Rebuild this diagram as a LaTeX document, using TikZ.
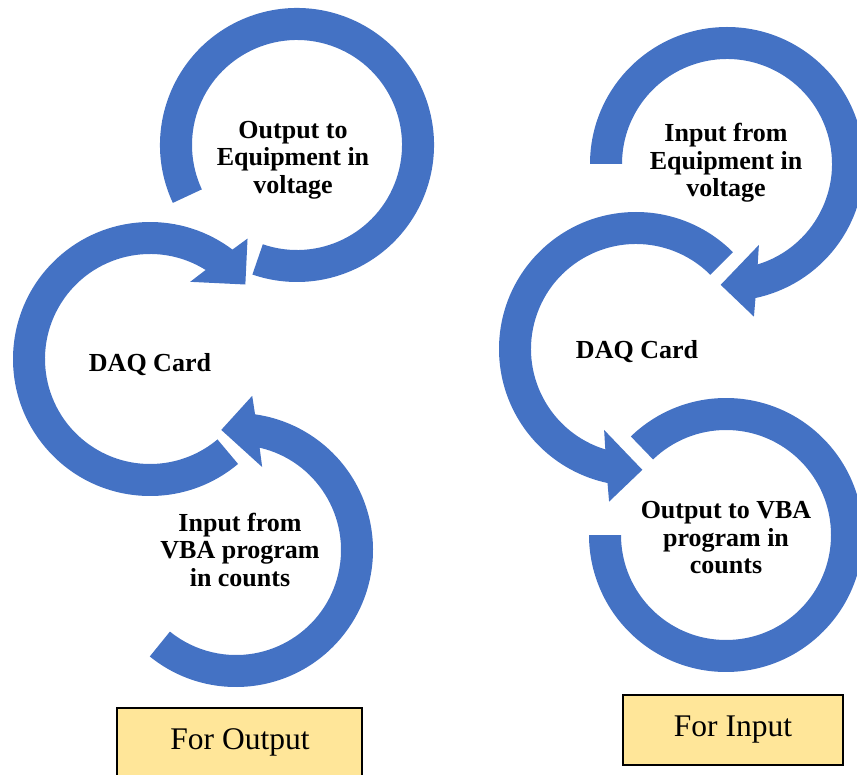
\documentclass[tikz,border=0pt]{standalone}
\usepackage{fontspec}
\setmainfont{Liberation Serif}
\usepackage{tikz}
\usetikzlibrary{positioning}

\definecolor{ringblue}{HTML}{4472C4}
\definecolor{tagyellow}{HTML}{FFE699}

% plain ring round a centre: centre, start angle, end angle
\newcommand{\plainring}[3]{%
  \fill[ring] ([shift={(#2:137)}]#1.center) arc[start angle=#2, end angle=#3, radius=137]
    -- ([shift={(#3:105)}]#1.center) arc[start angle=#3, end angle=#2, radius=105] -- cycle;}
% ring with arrow head: centre, start angle, tip angle, direction (+1/-1)
\newcommand{\arrowring}[4]{%
  \pgfmathsetmacro{\ringout}{#3-15*(#4)}%
  \pgfmathsetmacro{\ringin}{#3-20*(#4)}%
  \pgfmathsetmacro{\baseout}{#3-13*(#4)}%
  \pgfmathsetmacro{\basein}{#3-24.5*(#4)}%
  \fill[ring] ([shift={(#2:137)}]#1.center) arc[start angle=#2, end angle=\ringout, radius=137]
    -- ([shift={(\baseout:155)}]#1.center) -- ([shift={(#3:121)}]#1.center)
    -- ([shift={(\basein:87)}]#1.center) -- ([shift={(\ringin:105)}]#1.center)
    arc[start angle=\ringin, end angle=#2, radius=105] -- cycle;}

\begin{document}
\begin{tikzpicture}[x=1pt,y=1pt,
		ring/.style={fill=ringblue},
		lbl/.style={font=\fontsize{26}{27.5}\selectfont\bfseries, align=center, inner sep=0pt},
		tagbox/.style={draw=black, line width=1.5pt, fill=tagyellow},
		tagtext/.style={font=\fontsize{31.5}{36}\selectfont, inner sep=0pt}]
		\useasboundingbox (0,0) rectangle (857,-775);
		\clip (0,0) rectangle (857,-775);
		% for output
		\coordinate (eqout) at (297,-145);
		\coordinate (daqout) at (150,-359);
		\coordinate (vbain) at (236,-550);
		\plainring{eqout}{205}{-109}
		\arrowring{daqout}{-50}{-322}{-1}
		\arrowring{vbain}{231}{457}{1}
		\node[lbl] (eqoutlbl) at (293,-160) {Output to\\Equipment in\\voltage};
		\node[lbl] (daqoutlbl) at (150,-365) {DAQ Card};
		\node[lbl] (vbainlbl) at (240,-550) {Input from\\VBA program\\in counts};
		% for input
		\coordinate (eqin) at (727,-164);
		\coordinate (daqin) at (636,-349);
		\coordinate (vbaout) at (726,-535);
		\arrowring{eqin}{180}{-93}{-1}
		\arrowring{daqin}{45}{273}{1}
		\plainring{vbaout}{134}{-180}
		\node[lbl] (eqinlbl) at (726,-163) {Input from\\Equipment in\\voltage};
		\node[lbl] (daqinlbl) at (637,-352) {DAQ Card};
		\node[lbl] (vbaoutlbl) at (726,-538) {Output to VBA\\program in\\counts};
		% tags
		\draw[tagbox] (117,-708) rectangle (362,-800);
		\node[tagtext] (forout) at (240,-742) {For Output};
		\node[tagbox, tagtext, minimum width=220, minimum height=70] (forin) at (733,-730) {For Input};
\end{tikzpicture}
\end{document}
